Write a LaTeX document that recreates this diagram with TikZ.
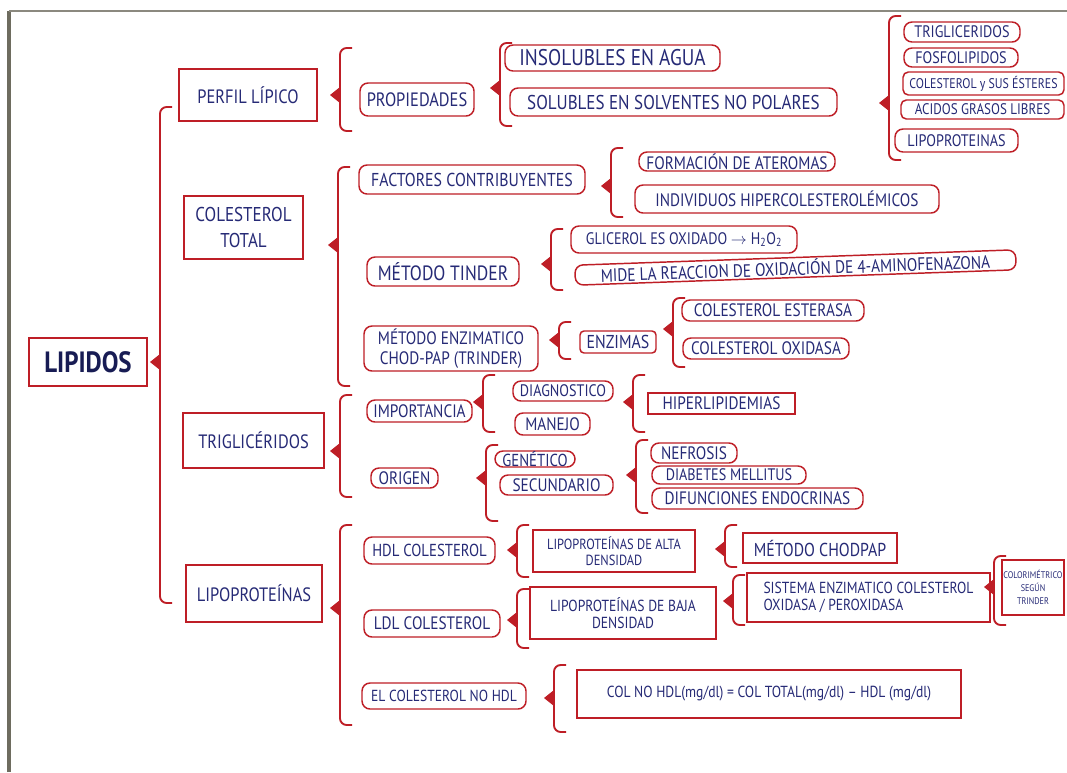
\documentclass[tikz,border=0pt]{standalone}
\usepackage{fontspec}
\newfontfamily\hand[FakeStretch=0.85]{PT Sans}
\definecolor{pen}{RGB}{38,42,118}
\definecolor{ink}{RGB}{24,28,84}
\definecolor{redpen}{RGB}{190,30,38}
\definecolor{sheet}{RGB}{110,108,95}

\tikzset{
  fs/.style={font=\hand\fontsize{#1}{#1}\selectfont},
  fsl/.style 2 args={font=\hand\fontsize{#1}{#2}\selectfont},
  base/.style={draw=redpen, line width=1.1pt, text=pen, inner sep=0pt, align=center, fs=13.5},
  sq/.style={base},
  rd/.style={base, rounded corners=6pt},
  brkline/.style={draw=redpen, line width=1.4pt, rounded corners=5pt},
}

% box given by its corners in pixel units: style, name, x1, y1, x2, y2, text
\newcommand\bx[7]{\node[#1, minimum width={(#5-#3)*0.75pt}, minimum height={(#6-#4)*0.75pt}] (#2) at ({(#3+#5)/2},{(#4+#6)/2}) {#7};}
% curly bracket with its pointer: name, x, top, bottom, pointer y
\newcommand\brk[5]{%
  \draw[brkline] ({#2+12},#3) -- (#2,#3) -- (#2,#4) -- ({#2+12},#4);
  \fill[redpen] (#2,{#5-8}) -- ({#2-10},#5) -- (#2,{#5+8}) -- cycle;
  \coordinate (#1) at ({#2-10},#5);}

\begin{document}
\begin{tikzpicture}[x=0.75pt, y=-0.75pt]
\useasboundingbox (0,0) rectangle (1067,772);
\fill[white] (0,0) rectangle (1067,772);
\begin{scope}
\clip (0,0) rectangle (1067,772);
% sheet edges
\draw[sheet, line width=2.4pt] (9,772) -- (9,11);
\draw[sheet!80, line width=1.4pt] (9,11) -- (1067,11);

% root
\bx{sq, fs=22, text=ink}{lip}{29}{338}{147}{386}{\bfseries LIPIDOS}
\brk{bm}{160}{107}{603}{362}

% first level
\bx{sq, fs=14.5}{perfil}{179}{69}{317}{121}{PERFIL LÍPICO}
\bx{sq, fsl={15}{19}}{coltot}{184}{196}{303}{259}{COLESTEROL\\TOTAL}
\bx{sq, fs=14.5}{trig}{183}{413}{324}{468}{TRIGLICÉRIDOS}
\bx{sq, fs=14.5}{lipo}{186}{565}{322}{622}{LIPOPROTEÍNAS}

% perfil lipico
\brk{bp}{340}{48}{131}{95}
\bx{rd, fs=14.5}{prop}{360}{83}{474}{116}{PROPIEDADES}
\brk{bq}{500}{43}{126}{88}
\bx{rd, fs=17}{insol}{505}{45}{720}{71}{INSOLUBLES EN AGUA}
\bx{rd, fs=15}{solub}{510}{88}{837}{116}{SOLUBLES EN SOLVENTES NO POLARES}
\brk{bl}{889}{16}{160}{103}
\bx{rd, fs=12.5}{tg}{904}{22}{1020}{42}{TRIGLICERIDOS}
\bx{rd, fs=12.5}{fos}{904}{48}{1018}{67}{FOSFOLIPIDOS}
\bx{rd, fs=10.5, rounded corners=4pt}{cse}{903}{72}{1064}{95}{COLESTEROL y SUS ÉSTERES}
\bx{rd, fs=11.5, rounded corners=4pt}{agl}{901}{100}{1064}{119}{ACIDOS GRASOS LIBRES}
\bx{rd, fs=12.5}{lpl}{895}{129}{1018}{152}{LIPOPROTEINAS}

% colesterol total
\brk{bc}{338}{167}{386}{245}
\bx{rd, fs=14}{fact}{359}{165}{585}{194}{FACTORES CONTRIBUYENTES}
\bx{rd, fs=15.5}{tind}{367}{257}{519}{286}{MÉTODO TINDER}
\bx{rd, fsl={13.5}{15}}{enzm}{364}{326}{538}{371}{MÉTODO ENZIMATICO\\CHOD-PAP (TRINDER)}
\brk{bf}{611}{148}{217}{186}
\bx{rd, fs=13.5}{ater}{639}{152}{835}{171}{FORMACIÓN DE ATEROMAS}
\bx{rd, fs=13.5}{indiv}{635}{185}{939}{213}{INDIVIDUOS HIPERCOLESTEROLÉMICOS}
\brk{bt}{551}{229}{290}{264}
\bx{rd, fs=12.5}{glic}{571}{226}{797}{253}{GLICEROL ES OXIDADO $\rightarrow$ H\textsubscript{2}O\textsubscript{2}}
\node[rd, fs=13.5, rotate=2, minimum width=441*0.75pt, minimum height=20*0.75pt] (mide) at (795.5,267.5) {MIDE LA REACCION DE OXIDACIÓN DE 4-AMINOFENAZONA};
\brk{be}{559}{322}{359}{340}
\bx{rd, fs=14, rounded corners=3pt}{enz}{580}{331}{656}{353}{ENZIMAS}
\brk{bz}{673}{298}{367}{329}
\bx{rd, fs=13.5}{est}{682}{300}{864}{321}{COLESTEROL ESTERASA}
\bx{rd, fs=13.5}{oxi}{683}{338}{849}{359}{COLESTEROL OXIDASA}

% trigliceridos
\brk{btr}{340}{395}{497}{451}
\bx{rd, fs=13.5}{imp}{367}{400}{472}{422}{IMPORTANCIA}
\bx{rd, fs=13.5}{ori}{371}{468}{438}{488}{ORIGEN}
\brk{bi}{483}{375}{432}{402}
\bx{rd, fs=12.5}{diag}{513}{381}{613}{401}{DIAGNOSTICO}
\bx{rd, fs=13.5}{man}{515}{413}{590}{435}{MANEJO}
\brk{bh}{633}{375}{432}{402}
\bx{sq, fs=13.5}{hiper}{648}{393}{795}{414}{HIPERLIPIDEMIAS}
\brk{bo}{486}{445}{521}{478}
\bx{rd, fs=13}{gen}{495}{451}{575}{467}{GENÉTICO}
\bx{rd, fs=13.5}{sec}{500}{475}{613}{495}{SECUNDARIO}
\brk{bs}{636}{440}{513}{475}
\bx{rd, fs=13.5}{nef}{651}{443}{737}{463}{NEFROSIS}
\bx{rd, fs=12.5}{diab}{652}{466}{806}{484}{DIABETES MELLITUS}
\bx{rd, fs=13.5}{dif}{652}{488}{863}{509}{DIFUNCIONES ENDOCRINAS}

% lipoproteinas
\brk{blp}{340}{525}{725}{608}
\bx{rd, fs=13}{hdl}{364}{537}{495}{564}{HDL COLESTEROL}
\bx{rd, fs=13.5}{ldl}{364}{610}{500}{637}{LDL COLESTEROL}
\bx{rd, fs=12}{nohdl}{362}{683}{526}{709}{EL COLESTEROL NO HDL}
\brk{bhd}{517}{525}{577}{550}
\bx{sq, fsl={11}{12}}{alta}{533}{530}{695}{572}{LIPOPROTEÍNAS DE ALTA\\DENSIDAD}
\brk{bch}{725}{525}{567}{549}
\bx{sq, fs=14}{chod}{743}{533}{897}{563}{MÉTODO CHODPAP}
\brk{bld}{517}{589}{648}{620}
\bx{sq, fsl={12}{13}}{baja}{530}{587}{716}{639}{LIPOPROTEÍNAS DE BAJA\\DENSIDAD}
\brk{bsi}{733}{575}{625}{601}
\bx{sq, fsl={12}{13}, align=left}{sist}{747}{573}{990}{622}{SISTEMA ENZIMATICO COLESTEROL\\OXIDASA / PEROXIDASA}
\brk{bcl}{994}{556}{625}{587}
\bx{sq, fsl={7.2}{10}}{color}{1002}{560}{1064}{615}{COLORIMÉTRICO\\SEGÚN\\TRINDER}
\brk{bn}{554}{665}{732}{698}
\bx{sq, fs=12}{form}{577}{670}{961}{718}{COL NO HDL(mg/dl) = COL TOTAL(mg/dl) – HDL (mg/dl)}
\end{scope}
\end{tikzpicture}
\end{document}
